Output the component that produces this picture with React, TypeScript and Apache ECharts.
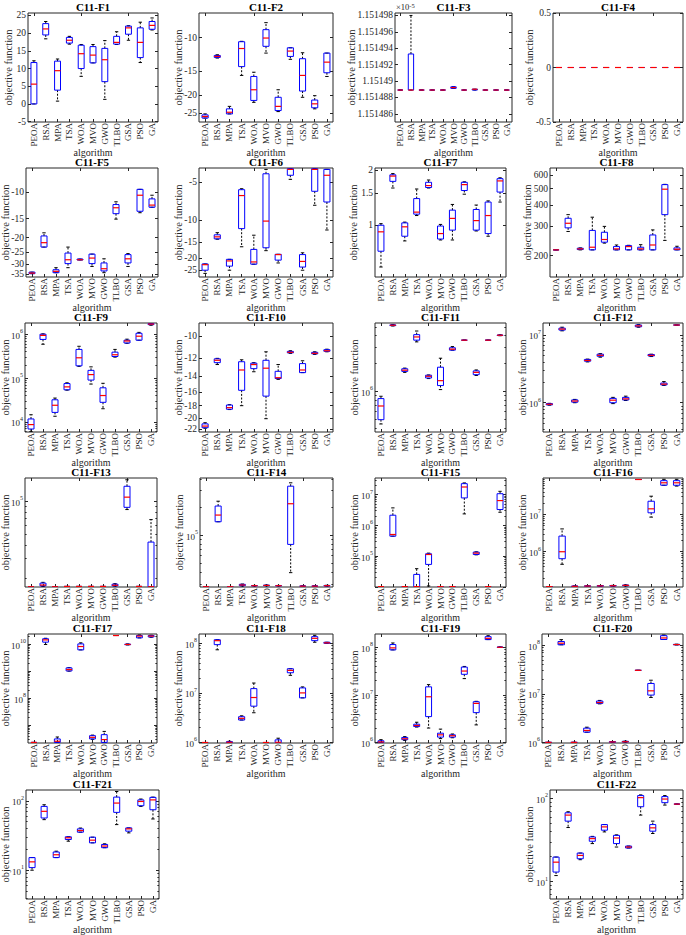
import React, { useEffect, useRef } from 'react';
import * as echarts from 'echarts';

const ALGORITHMS = ['PEOA', 'RSA', 'MPA', 'TSA', 'WOA', 'MVO', 'GWO', 'TLBO', 'GSA', 'PSO', 'GA'];

// five-number summaries per algorithm: [min, q1, median, q3, max]
const F1_STATS = [
  [0, 0, 5.6, 11.7, 12.2], [18.4, 19.5, 21.2, 22.7, 23.3], [0.8, 3.9, 9.4, 12.1, 12.7],
  [16.9, 17.2, 18.0, 18.8, 19.1], [7.8, 10.0, 14.2, 16.6, 16.8], [11.6, 11.6, 13.8, 16.2, 16.8],
  [1.3, 6.3, 12.5, 15.7, 17.9], [16.8, 16.9, 17.4, 19.1, 20.4], [18.0, 19.7, 21.5, 22.0, 22.1],
  [11.7, 13.1, 17.4, 21.5, 23.1], [20.9, 21.1, 22.2, 23.3, 24.3],
];
const F2_STATS = [
  [-26.5, -26.5, -26.0, -25.5, -25.2], [-12.8, -12.7, -12.55, -12.4, -12.3], [-25.2, -25.2, -24.7, -23.7, -23.0],
  [-15.8, -14.2, -11.4, -10.5, -10.45], [-21.9, -21.4, -18.8, -16.0, -15.2], [-12.05, -11.1, -10.04, -9.07, -8.33],
  [-24.5, -24.2, -23.0, -20.6, -18.8], [-13.0, -12.55, -11.76, -11.3, -11.3], [-20.6, -19.1, -15.8, -12.9, -12.0],
  [-23.7, -23.4, -22.3, -21.3, -20.2], [-16.0, -15.3, -13.45, -12.05, -12.05],
];
// F3 values in units of 1e-5
const F3_STATS = [
  [1.1514889, 1.1514889, 1.1514889, 1.1514889, 1.1514889], [1.1514889, 1.1514889, 1.1514889, 1.1514933, 1.151498],
  [1.1514889, 1.1514889, 1.1514889, 1.1514889, 1.1514889], [1.1514889, 1.1514889, 1.1514889, 1.1514889, 1.1514889],
  [1.1514889, 1.1514889, 1.1514889, 1.1514889, 1.1514889], [1.1514891, 1.1514891, 1.1514892, 1.1514893, 1.1514893],
  [1.1514889, 1.1514889, 1.1514889, 1.1514889, 1.1514889], [1.1514889, 1.1514889, 1.151489, 1.151489, 1.151489],
  [1.1514889, 1.1514889, 1.1514889, 1.1514889, 1.1514889], [1.1514889, 1.1514889, 1.1514889, 1.1514889, 1.1514889],
  [1.1514889, 1.1514889, 1.1514889, 1.1514889, 1.1514889],
];
const F4_STATS = [
  [0, 0, 0, 0, 0], [0, 0, 0, 0, 0], [0, 0, 0, 0, 0], [0, 0, 0, 0, 0], [0, 0, 0, 0, 0], [0, 0, 0, 0, 0],
  [0, 0, 0, 0, 0], [0, 0, 0, 0, 0], [0, 0, 0, 0, 0], [0, 0, 0, 0, 0], [0, 0, 0, 0, 0],
];
const F5_STATS = [
  [-34.6, -34.6, -34.3, -33.8, -33.8], [-23.1, -23.1, -21.6, -19.5, -18.6], [-34.1, -34.1, -33.4, -32.6, -31.6],
  [-31.6, -29.7, -28.0, -25.3, -23.1], [-28.1, -28.1, -28.0, -27.7, -27.7], [-31.0, -29.7, -27.3, -25.7, -25.7],
  [-34.1, -33.2, -32.1, -29.4, -27.6], [-15.1, -13.9, -12.7, -12.1, -11.6], [-31.0, -29.4, -27.6, -25.9, -25.5],
  [-13.7, -13.4, -10.5, -9.6, -9.6], [-12.6, -12.6, -12.2, -11.1, -10.5],
];
const F6_STATS = [
  [-26.5, -25.0, -22.6, -22.3, -22.3], [-14.2, -14.1, -13.6, -13.1, -12.6], [-25.0, -23.2, -21.1, -20.5, -20.5],
  [-16.3, -11.7, -6.4, -5.75, -5.65], [-22.4, -22.4, -21.5, -17.1, -13.2], [-17.5, -16.6, -10.2, -4.3, -3.97],
  [-21.9, -20.8, -18.8, -18.7, -18.7], [-4.76, -4.42, -3.97, -3.92, -3.92], [-25.0, -23.6, -21.3, -18.8, -18.2],
  [-7.64, -5.92, -3.97, -3.92, -3.92], [-12.0, -7.2, -4.42, -3.97, -3.97],
];
const F7_STATS = [
  [0.59, 0.72, 0.92, 1.0, 1.02], [1.6, 1.74, 1.86, 1.89, 1.92], [0.82, 0.87, 0.98, 1.03, 1.04],
  [1.13, 1.15, 1.18, 1.4, 1.58], [1.6, 1.61, 1.65, 1.72, 1.77], [0.83, 0.84, 0.9, 0.99, 1.01],
  [0.83, 0.94, 1.09, 1.21, 1.3], [1.48, 1.55, 1.67, 1.72, 1.73], [0.93, 0.94, 1.06, 1.22, 1.29],
  [0.87, 0.9, 1.13, 1.34, 1.36], [1.34, 1.52, 1.75, 1.8, 1.82],
];
const F8_STATS = [
  [216, 216, 216, 216, 216], [278, 292, 311, 333, 350], [216, 217, 219, 221, 222],
  [216, 216, 224, 282, 338], [237, 240, 249, 275, 298], [216, 216, 219, 226, 231],
  [216, 216, 226, 229, 230], [216, 216, 219, 224, 232], [216, 216, 231, 265, 284],
  [246, 350, 496, 528, 530], [216, 216, 218, 222, 227],
];
const F9_STATS = [
  [6.0e3, 6.9e3, 8.7e3, 1.17e4, 1.46e4], [5.9e5, 7.6e5, 9.4e5, 1.0e6, 1.02e6], [1.35e4, 1.65e4, 2.4e4, 3.2e4, 3.5e4],
  [5.3e4, 5.4e4, 6.3e4, 7.5e4, 7.8e4], [1.85e5, 1.9e5, 2.9e5, 4.5e5, 5.3e5], [7.3e4, 9.0e4, 1.2e5, 1.5e5, 1.8e5],
  [2.0e4, 2.8e4, 4.0e4, 6.0e4, 7.6e4], [3.0e5, 3.1e5, 3.4e5, 3.9e5, 4.5e5], [6.2e5, 6.3e5, 7.0e5, 7.3e5, 7.7e5],
  [7.3e5, 7.3e5, 9.0e5, 1.05e6, 1.1e6], [1.6e6, 1.65e6, 1.7e6, 1.74e6, 1.78e6],
];
const F10_STATS = [
  [-21.8, -21.7, -21.4, -21.0, -20.8], [-12.7, -12.5, -12.25, -12.1, -12.05], [-18.6, -18.55, -18.3, -17.9, -17.85],
  [-18.0, -15.8, -13.3, -12.4, -12.2], [-13.5, -13.15, -12.7, -12.55, -12.5], [-20.1, -16.6, -13.1, -12.25, -11.4],
  [-14.4, -14.3, -14.2, -13.45, -12.7], [-11.55, -11.5, -11.45, -11.36, -11.3], [-13.6, -13.6, -13.3, -12.6, -12.3],
  [-11.65, -11.6, -11.55, -11.45, -11.4], [-11.4, -11.35, -11.3, -11.2, -11.15],
];
const F11_STATS = [
  [4.4e5, 4.9e5, 6.9e5, 8.3e5, 8.8e5], [5.1e6, 5.15e6, 5.2e6, 5.25e6, 5.3e6], [1.6e6, 1.64e6, 1.69e6, 1.75e6, 1.78e6],
  [3.43e6, 3.58e6, 3.88e6, 4.11e6, 4.5e6], [1.37e6, 1.39e6, 1.45e6, 1.49e6, 1.5e6], [1.04e6, 1.15e6, 1.3e6, 1.82e6, 2.28e6],
  [2.79e6, 2.79e6, 2.86e6, 2.96e6, 3.05e6], [3.58e6, 3.58e6, 3.58e6, 3.58e6, 3.58e6], [1.48e6, 1.51e6, 1.6e6, 1.66e6, 1.7e6],
  [3.58e6, 3.58e6, 3.58e6, 3.58e6, 3.58e6], [4.0e6, 4.02e6, 4.05e6, 4.07e6, 4.1e6],
];
const F12_STATS = [
  [9.2e5, 9.3e5, 9.5e5, 9.7e5, 9.8e5], [1.15e7, 1.18e7, 1.22e7, 1.26e7, 1.3e7], [1.0e6, 1.02e6, 1.06e6, 1.1e6, 1.12e6],
  [4.0e6, 4.1e6, 4.2e6, 4.35e6, 4.4e6], [4.7e6, 4.85e6, 5.0e6, 5.2e6, 5.3e6], [9.7e5, 1.0e6, 1.09e6, 1.16e6, 1.2e6],
  [1.08e6, 1.1e6, 1.14e6, 1.2e6, 1.25e6], [1.3e7, 1.32e7, 1.36e7, 1.4e7, 1.42e7], [4.8e6, 4.9e6, 5.0e6, 5.15e6, 5.2e6],
  [1.8e6, 1.83e6, 1.88e6, 1.95e6, 2.05e6], [1.4e7, 1.4e7, 1.4e7, 1.4e7, 1.4e7],
];
const F13_STATS = [
  [1.66e4, 1.66e4, 1.66e4, 1.66e4, 1.66e4], [1.67e4, 1.69e4, 1.72e4, 1.79e4, 1.82e4], [1.66e4, 1.66e4, 1.66e4, 1.66e4, 1.66e4],
  [1.67e4, 1.67e4, 1.67e4, 1.67e4, 1.67e4], [1.67e4, 1.67e4, 1.67e4, 1.67e4, 1.67e4], [1.67e4, 1.67e4, 1.67e4, 1.67e4, 1.67e4],
  [1.67e4, 1.67e4, 1.67e4, 1.67e4, 1.67e4], [1.68e4, 1.69e4, 1.71e4, 1.75e4, 1.77e4], [8.4e4, 8.8e4, 1.09e5, 1.37e5, 1.57e5],
  [1.67e4, 1.67e4, 1.67e4, 1.67e4, 1.67e4], [1.66e4, 1.66e4, 1.66e4, 4.24e4, 6.8e4],
];
const F14_STATS = [
  [2.79e4, 2.79e4, 2.79e4, 2.79e4, 2.79e4], [1.39e5, 1.39e5, 1.64e5, 2.05e5, 2.31e5], [2.79e4, 2.79e4, 2.79e4, 2.79e4, 2.79e4],
  [2.84e4, 2.86e4, 2.91e4, 2.96e4, 2.98e4], [2.84e4, 2.85e4, 2.86e4, 2.87e4, 2.88e4], [2.85e4, 2.86e4, 2.88e4, 2.9e4, 2.91e4],
  [2.84e4, 2.85e4, 2.86e4, 2.87e4, 2.88e4], [3.95e4, 7.94e4, 2.17e5, 3.35e5, 3.64e5], [2.83e4, 2.83e4, 2.83e4, 2.84e4, 2.84e4],
  [2.83e4, 2.83e4, 2.83e4, 2.84e4, 2.84e4], [2.83e4, 2.84e4, 2.86e4, 2.88e4, 2.89e4],
];
const F15_STATS = [
  [1.02e4, 1.02e4, 1.02e4, 1.02e4, 1.02e4], [4.45e5, 4.45e5, 5.05e5, 2.14e6, 3.7e6], [1.02e4, 1.02e4, 1.02e4, 1.02e4, 1.02e4],
  [1.02e4, 1.02e4, 1.02e4, 2.54e4, 3.9e4], [1.07e4, 5.37e4, 1.13e5, 1.19e5, 1.25e5], [1.02e4, 1.02e4, 1.02e4, 1.02e4, 1.02e4],
  [1.02e4, 1.02e4, 1.02e4, 1.02e4, 1.02e4], [2.36e6, 7.8e6, 1.77e7, 2.27e7, 2.4e7], [1.1e5, 1.13e5, 1.25e5, 1.35e5, 1.38e5],
  [1.02e4, 1.02e4, 1.02e4, 1.02e4, 1.02e4], [2.67e6, 3.27e6, 6.4e6, 1.07e7, 1.28e7],
];
const F16_STATS = [
  [1.16e5, 1.16e5, 1.16e5, 1.16e5, 1.16e5], [4.6e5, 6.5e5, 1.0e6, 2.63e6, 4.1e6], [1.16e5, 1.17e5, 1.18e5, 1.2e5, 1.21e5],
  [1.18e5, 1.19e5, 1.2e5, 1.21e5, 1.22e5], [1.18e5, 1.19e5, 1.21e5, 1.23e5, 1.24e5], [1.19e5, 1.2e5, 1.22e5, 1.24e5, 1.25e5],
  [1.2e5, 1.22e5, 1.25e5, 1.27e5, 1.29e5], [8.7e7, 8.7e7, 8.7e7, 8.7e7, 8.7e7], [8.5e6, 1.11e7, 1.42e7, 2.27e7, 3.1e7],
  [6.1e7, 6.1e7, 7.1e7, 8.1e7, 8.8e7], [5.8e7, 6.1e7, 7.1e7, 8.1e7, 8.8e7],
];
const F17_STATS = [
  [2.3e6, 2.3e6, 2.3e6, 2.3e6, 2.3e6], [1.0e10, 1.22e10, 1.48e10, 1.63e10, 1.7e10], [2.3e6, 2.3e6, 2.54e6, 3.1e6, 3.66e6],
  [1.02e9, 1.04e9, 1.17e9, 1.35e9, 1.38e9], [6.3e9, 6.3e9, 8.4e9, 1.05e10, 1.15e10], [3.0e6, 3.1e6, 3.56e6, 4.1e6, 4.3e6],
  [2.3e6, 2.3e6, 2.93e6, 4.47e6, 5.9e6], [2.15e10, 2.15e10, 2.15e10, 2.15e10, 2.15e10], [9.6e9, 9.8e9, 1.0e10, 1.03e10, 1.05e10],
  [1.76e10, 1.76e10, 2.05e10, 2.15e10, 2.25e10], [1.85e10, 1.9e10, 2.05e10, 2.15e10, 2.2e10],
];
const F18_STATS = [
  [1.0e6, 1.0e6, 1.0e6, 1.0e6, 1.0e6], [7.4e7, 9.4e7, 1.13e8, 1.18e8, 1.18e8], [1.0e6, 1.0e6, 1.01e6, 1.04e6, 1.06e6],
  [2.84e6, 2.84e6, 3.07e6, 3.31e6, 3.45e6], [3.98e6, 5.4e6, 8.07e6, 1.22e7, 1.58e7], [1.0e6, 1.0e6, 1.0e6, 1.0e6, 1.0e6],
  [1.0e6, 1.0e6, 1.01e6, 1.13e6, 1.22e6], [2.26e7, 2.55e7, 2.84e7, 3.07e7, 3.07e7], [7.94e6, 7.94e6, 1.0e7, 1.26e7, 1.32e7],
  [1.05e8, 1.13e8, 1.26e8, 1.36e8, 1.45e8], [1.0e8, 1.0e8, 1.02e8, 1.05e8, 1.05e8],
];
const F19_STATS = [
  [1.0e6, 1.0e6, 1.02e6, 1.08e6, 1.14e6], [8.8e7, 8.8e7, 9.7e7, 1.14e8, 1.23e8], [1.1e6, 1.14e6, 1.19e6, 1.27e6, 1.32e6],
  [2.1e6, 2.15e6, 2.26e6, 2.41e6, 2.65e6], [2.0e6, 3.48e6, 9.1e6, 1.47e7, 1.64e7], [1.2e6, 1.29e6, 1.44e6, 1.56e6, 1.9e6],
  [1.25e6, 1.29e6, 1.38e6, 1.44e6, 1.5e6], [2.19e7, 2.7e7, 3.16e7, 3.83e7, 3.95e7], [2.33e6, 4.22e6, 6.6e6, 7.15e6, 7.3e6],
  [1.45e8, 1.45e8, 1.54e8, 1.67e8, 1.75e8], [9.9e7, 9.95e7, 1.0e8, 1.01e8, 1.02e8],
];
const F20_STATS = [
  [1.0e6, 1.0e6, 1.0e6, 1.0e6, 1.0e6], [1.02e8, 1.02e8, 1.1e8, 1.19e8, 1.3e8], [1.0e6, 1.0e6, 1.0e6, 1.0e6, 1.0e6],
  [1.62e6, 1.62e6, 1.76e6, 1.96e6, 2.05e6], [6.2e6, 6.35e6, 6.6e6, 7.08e6, 7.3e6], [1.0e6, 1.01e6, 1.02e6, 1.03e6, 1.04e6],
  [1.01e6, 1.02e6, 1.03e6, 1.05e6, 1.06e6], [3.04e7, 3.04e7, 3.04e7, 3.04e7, 3.04e7], [8.4e6, 9.4e6, 1.15e7, 1.63e7, 1.9e7],
  [1.31e8, 1.31e8, 1.41e8, 1.57e8, 1.62e8], [1.01e8, 1.02e8, 1.03e8, 1.04e8, 1.05e8],
];
const F21_STATS = [
  [10.0, 10.9, 13.2, 15.2, 15.2], [53.5, 56.5, 70.5, 83, 87.7], [15.2, 15.2, 16.7, 18.3, 18.8],
  [26.2, 27.7, 29.3, 30.3, 30.3], [35.3, 35.3, 37.3, 39.4, 40.5], [24.8, 24.8, 27.1, 29.9, 29.9],
  [21.1, 21.1, 22.3, 23.5, 24.0], [45.4, 68.1, 92.7, 113, 136], [34.5, 36.5, 39.4, 40.7, 40.7],
  [83, 84.9, 97.8, 103, 106], [54.7, 74.3, 103, 112, 113],
];
const F22_STATS = [
  [11.8, 13.0, 17.1, 19.7, 19.7], [44.6, 53.2, 62.9, 67.1, 69], [18.3, 18.8, 20.6, 22, 22],
  [28.6, 30.5, 32.8, 34.4, 34.9], [39.5, 41.4, 45.4, 48.4, 48.4], [26.0, 28.6, 33.4, 35.9, 36.4],
  [25.3, 25.3, 26, 26.7, 26.7], [62.9, 79.3, 102, 108, 110], [37.8, 40.3, 44.2, 48.4, 53.2],
  [83, 88.7, 98.1, 105, 108], [85.3, 85.3, 85.3, 85.3, 85.3],
];

// y-axis ranges [min, max]
const F1_RANGE = [-5.1, 25.7];
const F2_RANGE = [-27.8, -7.41];
const F3_RANGE = [1.151485, 1.1514983];
const F4_RANGE = [-0.5, 0.5];
const F5_RANGE = [-36.4, -6.94];
const F6_RANGE = [-28.3, -3.87];
const F7_RANGE = [0.52, 2.06];
const F8_RANGE = [149, 663];
const F9_RANGE = [5.9e3, 1.8e6];
const F10_RANGE = [-22.5, -8.93];
const F11_RANGE = [3.6e5, 5.5e6];
const F12_RANGE = [3.7e5, 1.5e7];
const F13_RANGE = [1.65e4, 1.63e5];
const F14_RANGE = [2.77e4, 4.1e5];
const F15_RANGE = [9.9e3, 3.47e7];
const F16_RANGE = [1.13e5, 9.55e7];
const F17_RANGE = [2.19e6, 2.45e10];
const F18_RANGE = [9.77e5, 1.54e8];
const F19_RANGE = [9.7e5, 1.9e8];
const F20_RANGE = [9.7e5, 1.7e8];
const F21_RANGE = [3.85, 143];
const F22_RANGE = [6.17, 126];

// y tick labels
const F1_TICKS = [-5, 0, 5, 10, 15, 20, 25];
const F2_TICKS = [-25, -20, -15, -10];
const F3_TICKS = [1.151486, 1.151488, 1.15149, 1.151492, 1.151494, 1.151496, 1.151498];
const F4_TICKS = [-0.5, 0, 0.5];
const F5_TICKS = [-35, -30, -25, -20, -15, -10];
const F6_TICKS = [-25, -20, -15, -10, -5];
const F7_TICKS = [1, 1.5, 2];
const F8_TICKS = [200, 300, 400, 500, 600];
const F9_TICKS = [1e4, 1e5, 1e6];
const F10_TICKS = [-22, -20, -18, -16, -14, -12, -10];
const F11_TICKS = [1e6];
const F12_TICKS = [1e6, 1e7];
const F13_TICKS = [1e5];
const F14_TICKS = [1e5];
const F15_TICKS = [1e5, 1e6, 1e7];
const F16_TICKS = [1e6, 1e7];
const F17_TICKS = [1e8, 1e10];
const F18_TICKS = [1e6, 1e7, 1e8];
const F19_TICKS = [1e6, 1e7, 1e8];
const F20_TICKS = [1e6, 1e7, 1e8];
const F21_TICKS = [10, 100];
const F22_TICKS = [10, 100];

type Scale = 'lin' | 'log' | 'nlog';
type Fmt = 'num' | 'pow';
interface Panel { title: string; stats: number[][]; scale: Scale; range: number[]; ticks: number[]; fmt: Fmt; digits: number; }

const PANELS: Panel[] = [
  { title: 'C11-F1', stats: F1_STATS, scale: 'lin', range: F1_RANGE, ticks: F1_TICKS, fmt: 'num', digits: 3 },
  { title: 'C11-F2', stats: F2_STATS, scale: 'nlog', range: F2_RANGE, ticks: F2_TICKS, fmt: 'num', digits: 3 },
  { title: 'C11-F3', stats: F3_STATS, scale: 'lin', range: F3_RANGE, ticks: F3_TICKS, fmt: 'num', digits: 6 },
  { title: 'C11-F4', stats: F4_STATS, scale: 'lin', range: F4_RANGE, ticks: F4_TICKS, fmt: 'num', digits: 3 },
  { title: 'C11-F5', stats: F5_STATS, scale: 'nlog', range: F5_RANGE, ticks: F5_TICKS, fmt: 'num', digits: 3 },
  { title: 'C11-F6', stats: F6_STATS, scale: 'nlog', range: F6_RANGE, ticks: F6_TICKS, fmt: 'num', digits: 3 },
  { title: 'C11-F7', stats: F7_STATS, scale: 'log', range: F7_RANGE, ticks: F7_TICKS, fmt: 'num', digits: 3 },
  { title: 'C11-F8', stats: F8_STATS, scale: 'log', range: F8_RANGE, ticks: F8_TICKS, fmt: 'num', digits: 3 },
  { title: 'C11-F9', stats: F9_STATS, scale: 'log', range: F9_RANGE, ticks: F9_TICKS, fmt: 'pow', digits: 0 },
  { title: 'C11-F10', stats: F10_STATS, scale: 'nlog', range: F10_RANGE, ticks: F10_TICKS, fmt: 'num', digits: 3 },
  { title: 'C11-F11', stats: F11_STATS, scale: 'log', range: F11_RANGE, ticks: F11_TICKS, fmt: 'pow', digits: 0 },
  { title: 'C11-F12', stats: F12_STATS, scale: 'log', range: F12_RANGE, ticks: F12_TICKS, fmt: 'pow', digits: 0 },
  { title: 'C11-F13', stats: F13_STATS, scale: 'log', range: F13_RANGE, ticks: F13_TICKS, fmt: 'pow', digits: 0 },
  { title: 'C11-F14', stats: F14_STATS, scale: 'log', range: F14_RANGE, ticks: F14_TICKS, fmt: 'pow', digits: 0 },
  { title: 'C11-F15', stats: F15_STATS, scale: 'log', range: F15_RANGE, ticks: F15_TICKS, fmt: 'pow', digits: 0 },
  { title: 'C11-F16', stats: F16_STATS, scale: 'log', range: F16_RANGE, ticks: F16_TICKS, fmt: 'pow', digits: 0 },
  { title: 'C11-F17', stats: F17_STATS, scale: 'log', range: F17_RANGE, ticks: F17_TICKS, fmt: 'pow', digits: 0 },
  { title: 'C11-F18', stats: F18_STATS, scale: 'log', range: F18_RANGE, ticks: F18_TICKS, fmt: 'pow', digits: 0 },
  { title: 'C11-F19', stats: F19_STATS, scale: 'log', range: F19_RANGE, ticks: F19_TICKS, fmt: 'pow', digits: 0 },
  { title: 'C11-F20', stats: F20_STATS, scale: 'log', range: F20_RANGE, ticks: F20_TICKS, fmt: 'pow', digits: 0 },
  { title: 'C11-F21', stats: F21_STATS, scale: 'log', range: F21_RANGE, ticks: F21_TICKS, fmt: 'pow', digits: 0 },
  { title: 'C11-F22', stats: F22_STATS, scale: 'log', range: F22_RANGE, ticks: F22_TICKS, fmt: 'pow', digits: 0 },
];

// layout (pixels)
const ROW_TOPS = [13, 168, 323, 478, 634, 790];
const PLOT_H = 109;
const PANEL_ROW = [0, 0, 0, 0, 1, 1, 1, 1, 2, 2, 2, 2, 3, 3, 3, 3, 4, 4, 4, 4, 5, 5];
const PANEL_X = [
  [28, 158], [199, 333], [395, 512], [553, 683],
  [26, 158], [199, 333], [375, 506], [550, 683],
  [25, 157], [199, 333], [375, 506], [543, 683],
  [25, 157], [200, 333], [375, 506], [543, 683],
  [28, 157], [199, 333], [375, 506], [542, 683],
  [26, 159], [550, 683],
];
const NAME_CENTER_X = [8, 180, 353, 530, 8, 181, 353, 533, 8, 180, 357, 525, 9, 181, 357, 528, 8, 181, 357, 528, 8, 532];

const FONT = 'Liberation Serif';
const FRAME = '#262626';
const TICK_FS = 9.5;
const POW_FS = 9;
const SUP_FS = 6;
const YNAME_FS = 10.5;
const LABEL_MARGIN = 2;
const MIN_NAME_CENTER = 5.75;

const fwd = (s: Scale, v: number) => (s === 'log' ? Math.log10(v) : s === 'nlog' ? -Math.log10(-v) : v);
const inv = (s: Scale, t: number) => (s === 'log' ? Math.pow(10, t) : s === 'nlog' ? -Math.pow(10, -t) : t);

const RICH = {
  b: { fontSize: POW_FS, fontFamily: FONT, color: FRAME, lineHeight: 12, verticalAlign: 'bottom' },
  s: { fontSize: SUP_FS, fontFamily: FONT, color: FRAME, lineHeight: 7, verticalAlign: 'top' },
};

// rough width of a numeric label in a serif face
const textWidth = (s: string, fs: number) =>
  s.split('').reduce((w, ch) => w + (ch === '.' ? 0.25 : ch === '-' ? 0.333 : 0.5), 0) * fs;

function renderBox(params: any, api: any) {
  const k = api.value(0);
  const pts = [1, 2, 3, 4, 5].map((d) => api.coord([k, api.value(d)]));
  const cx = pts[0][0];
  const band = api.size([1, 0])[0];
  const hw = band * 0.25;
  const cw = band * 0.14;
  const [yMin, yQ1, yMed, yQ3, yMax] = pts.map((p: number[]) => p[1]);
  const black = { stroke: '#000', lineWidth: 1 };
  return {
    type: 'group',
    children: [
      { type: 'line', shape: { x1: cx, y1: yQ3, x2: cx, y2: yMax }, style: { ...black, lineDash: [2, 1.6] } },
      { type: 'line', shape: { x1: cx, y1: yQ1, x2: cx, y2: yMin }, style: { ...black, lineDash: [2, 1.6] } },
      { type: 'line', shape: { x1: cx - cw, y1: yMax, x2: cx + cw, y2: yMax }, style: black },
      { type: 'line', shape: { x1: cx - cw, y1: yMin, x2: cx + cw, y2: yMin }, style: black },
      { type: 'rect', shape: { x: cx - hw, y: yQ3, width: hw * 2, height: yQ1 - yQ3 }, style: { fill: 'none', stroke: '#0000ff', lineWidth: 1 } },
      { type: 'line', shape: { x1: cx - hw, y1: yMed, x2: cx + hw, y2: yMed }, style: { stroke: '#ff0000', lineWidth: 1.2 } },
    ],
  };
}

function buildOption() {
  const grid: any[] = [];
  const xAxis: any[] = [];
  const yAxis: any[] = [];
  const series: any[] = [];
  const graphic: any[] = [];

  PANELS.forEach((p, i) => {
    const [x0, x1] = PANEL_X[i];
    const top = ROW_TOPS[PANEL_ROW[i]];
    grid.push({
      left: x0, top, width: x1 - x0, height: PLOT_H, show: true,
      borderColor: FRAME, borderWidth: 1, backgroundColor: 'rgba(0,0,0,0)',
      containLabel: false, outerBoundsMode: 'none',
    });
    const lo = fwd(p.scale, p.range[0]);
    const hi = fwd(p.scale, p.range[1]);
    const labelVals = p.ticks.map((v) => fwd(p.scale, v));
    let tickVals = labelVals;
    const minorVals: number[] = [];
    if (p.fmt === 'pow') {
      tickVals = [];
      for (let e = Math.ceil(lo); e <= Math.floor(hi); e++) tickVals.push(e);
      for (let e = Math.floor(lo); e <= Math.ceil(hi); e++) {
        for (let m = 2; m <= 9; m++) {
          const t = e + Math.log10(m);
          if (t > lo && t < hi) minorVals.push(t);
        }
      }
    }
    const numText = (t: number) => String(parseFloat(inv(p.scale, t).toFixed(p.digits)));
    const fmt = (t: number) => (p.fmt === 'pow' ? `{b|10}{s|${Math.round(t)}}` : numText(t));
    const labelW = Math.max(
      ...labelVals.map((t) =>
        p.fmt === 'pow' ? textWidth('10', POW_FS) + textWidth(String(Math.round(t)), SUP_FS) : textWidth(numText(t), TICK_FS)
      )
    );
    const refGap = x0 - NAME_CENTER_X[i] - YNAME_FS / 2;
    const maxGap = x0 - MIN_NAME_CENTER - YNAME_FS / 2;
    const nameGap = Math.min(maxGap, Math.max(refGap, LABEL_MARGIN + labelW + 1));

    const xb = xAxis.length;
    xAxis.push({
      type: 'category', gridIndex: i, data: ALGORITHMS, position: 'bottom', boundaryGap: true,
      axisLine: { show: false, onZero: false },
      axisTick: { show: true, inside: true, alignWithLabel: true, length: 3, lineStyle: { color: FRAME } },
      axisLabel: { interval: 0, rotate: 90, fontSize: 9, fontFamily: FONT, color: FRAME, margin: 1 },
      name: 'algorithm', nameLocation: 'middle', nameGap: 25, nameMoveOverlap: false,
      nameTextStyle: { fontSize: 10, fontFamily: FONT, color: FRAME, lineHeight: 10 },
    });
    xAxis.push({
      type: 'category', gridIndex: i, data: ALGORITHMS, position: 'top', boundaryGap: true,
      axisLine: { show: false, onZero: false }, axisLabel: { show: false },
      axisTick: { show: true, inside: true, alignWithLabel: true, length: 3, lineStyle: { color: FRAME } },
    });

    const yb = yAxis.length;
    const common = {
      type: 'value', gridIndex: i, min: lo, max: hi, scale: true,
      axisLine: { show: false, onZero: false }, splitLine: { show: false },
    };
    yAxis.push({
      ...common, position: 'left',
      axisTick: { show: true, inside: true, length: 3, customValues: tickVals, lineStyle: { color: FRAME } },
      axisLabel: {
        customValues: labelVals, formatter: fmt, fontSize: TICK_FS, fontFamily: FONT, color: FRAME,
        margin: LABEL_MARGIN, rich: RICH,
      },
      name: 'objective function', nameLocation: 'middle', nameMoveOverlap: false, nameGap,
      nameTextStyle: { fontSize: YNAME_FS, fontFamily: FONT, color: FRAME, lineHeight: YNAME_FS },
    });
    yAxis.push({
      ...common, position: 'right', axisLabel: { show: false },
      axisTick: { show: true, inside: true, length: 3, customValues: tickVals, lineStyle: { color: FRAME } },
    });
    if (minorVals.length) {
      yAxis.push({
        ...common, position: 'left', axisLabel: { show: false },
        axisTick: { show: true, inside: true, length: 1.6, customValues: minorVals, lineStyle: { color: FRAME } },
      });
      yAxis.push({
        ...common, position: 'right', axisLabel: { show: false },
        axisTick: { show: true, inside: true, length: 1.6, customValues: minorVals, lineStyle: { color: FRAME } },
      });
    }

    series.push({
      type: 'custom', name: p.title, xAxisIndex: xb, yAxisIndex: yb, clip: true, silent: true,
      data: p.stats.map((s, k) => [k, ...s.map((v) => fwd(p.scale, v))]),
      encode: { x: 0, y: [1, 2, 3, 4, 5] },
      renderItem: renderBox,
    });

    graphic.push({
      type: 'text', x: (x0 + x1) / 2, y: top - 11.5, silent: true,
      style: {
        text: p.title, fill: '#000', fontSize: 11, fontWeight: 'bold', fontFamily: FONT,
        align: 'center', verticalAlign: 'top', lineHeight: 11,
      },
    });
    if (p.title === 'C11-F3') {
      graphic.push({
        type: 'text', x: x0 + 1, y: top - 11, silent: true,
        style: {
          text: '×10{s|-5}', fill: FRAME, fontSize: 8.5, fontFamily: FONT, align: 'left', verticalAlign: 'top',
          rich: { s: { fontSize: 6.5, fontFamily: FONT, fill: FRAME, verticalAlign: 'top', lineHeight: 6 } },
        },
      });
    }
  });

  return { animation: false, backgroundColor: '#fff', grid, xAxis, yAxis, series, graphic };
}

export default function App() {
  const ref = useRef<HTMLDivElement>(null);
  useEffect(() => {
    const chart = echarts.init(ref.current as HTMLDivElement, undefined, { renderer: 'svg' });
    chart.setOption(buildOption() as any);
    return () => chart.dispose();
  }, []);
  return (
    <div
      ref={ref}
      style={{ position: 'absolute', left: 0, top: 0, width: 686, height: 935, background: '#fff' }}
    />
  );
}
